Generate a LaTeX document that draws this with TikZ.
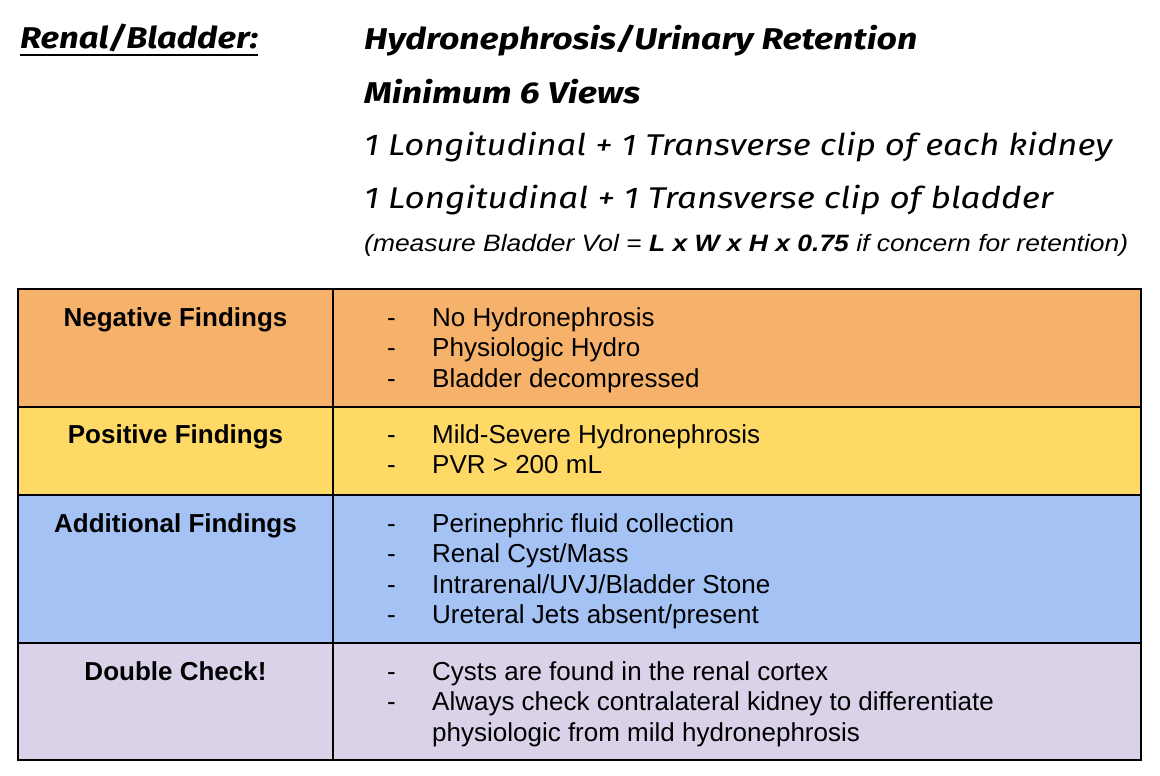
\documentclass[tikz,border=0pt]{standalone}
\usepackage{fontspec}
\setmainfont{Liberation Sans}
\newfontfamily\comicfont{Fira Sans}
\definecolor{negc}{HTML}{F6B26B}
\definecolor{posc}{HTML}{FFD966}
\definecolor{addc}{HTML}{A4C2F4}
\definecolor{dblc}{HTML}{D9D2E9}
\newlength\fitlen
\newcommand\fitw[2]{\settowidth{\fitlen}{#2}\pgfmathsetmacro\fitf{#1/\fitlen}\scalebox{\fitf}[1]{#2}}
\newcommand\fitwv[3]{\settowidth{\fitlen}{#3}\pgfmathsetmacro\fitf{#1/\fitlen}\scalebox{\fitf}[#2]{#3}}
\begin{document}
\begin{tikzpicture}[x=1pt,y=-1pt,
  hdr/.style={anchor=base west,inner sep=0pt,font=\comicfont\fontsize{30}{30}\selectfont\itshape},
  hdrb/.style={hdr,font=\comicfont\fontsize{30}{30}\selectfont\itshape\bfseries},
  note/.style={anchor=base west,inner sep=0pt,font=\fontsize{26}{26}\selectfont\itshape},
  ttl/.style={anchor=base,inner sep=0pt,font=\fontsize{26}{30}\selectfont\bfseries},
  itm/.style={anchor=base west,inner sep=0pt,font=\fontsize{26}{30}\selectfont},
  gridline/.style={line width=2pt,black}]
\useasboundingbox (0,0) rectangle (1160,776);
% header
\node[hdrb] (ren) at (20,49) {\fitw{238}{Renal/Bladder:}};
\draw[line width=2.5pt] ([yshift=-6pt]ren.base west) -- ([yshift=-6pt]ren.base east);
\node[hdrb] (h1) at (364,50) {\fitw{553}{Hydronephrosis/Urinary Retention}};
\node[hdrb] (h2) at (364,103) {\fitw{276}{Minimum 6 Views}};
\node[hdr] (h3) at (364,155) {\fitw{748}{1 Longitudinal + 1 Transverse clip of each kidney}};
\node[hdr] (h4) at (364,208) {\fitw{689}{1 Longitudinal + 1 Transverse clip of bladder}};
\node[note] (h5) at (364,251) {\fitwv{764}{0.91}{(measure Bladder Vol = \textbf{L x W x H x 0.75} if concern for retention)}};
% table fills
\fill[negc] (18,289) rectangle (1141,407);
\fill[posc] (18,407) rectangle (1141,495);
\fill[addc] (18,495) rectangle (1141,643);
\fill[dblc] (18,643) rectangle (1141,760);
\draw[gridline] (18,289) rectangle (1141,760);
\draw[gridline] (18,407) -- (1141,407);
\draw[gridline] (18,495) -- (1141,495);
\draw[gridline] (18,643) -- (1141,643);
\draw[gridline] (333,289) -- (333,760);
% left titles
\node[ttl] (t1) at (175.5,326) {Negative Findings};
\node[ttl] (t2) at (175.5,443) {Positive Findings};
\node[ttl] (t3) at (175.5,532) {Additional Findings};
\node[ttl] (t4) at (175.5,680) {Double Check!};
% right items
\foreach \y/\txt [count=\i] in {326/No Hydronephrosis, 356.5/Physiologic Hydro, 387/Bladder decompressed,
  443/Mild-Severe Hydronephrosis, 473.5/PVR > 200 mL,
  532/Perinephric fluid collection, 562.5/Renal Cyst\slash Mass, 593/Intrarenal\slash UVJ\slash Bladder Stone, 623.5/Ureteral Jets absent\slash present,
  680/Cysts are found in the renal cortex, 710.5/Always check contralateral kidney to differentiate}{
  \node[itm] (d\i) at (387,\y) {-};
  \node[itm] (i\i) at (432,\y) {\txt};
}
\node[itm] (i12) at (432,741) {physiologic from mild hydronephrosis};
\end{tikzpicture}
\end{document}
